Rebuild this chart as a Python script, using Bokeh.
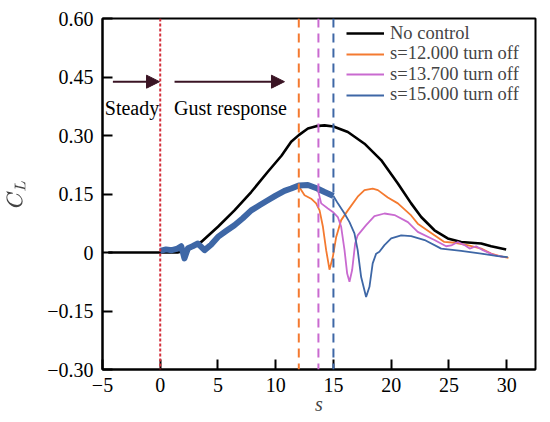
from bokeh.plotting import figure
from bokeh.models import (Span, Legend, LegendItem, Label, Arrow, NormalHead,
                          FixedTicker, Range1d, TeX)
from bokeh.embed import file_html
from bokeh.resources import INLINE

# ---------------- data ----------------
s_noctrl = [-4.5, 1.5, 2.5, 3.55, 5.0, 6.43, 7.88, 9.32, 10.5, 11.34, 12.0, 12.79,
            13.5, 14.23, 15.0, 16.25, 17.69, 19.13, 20.58, 21.73, 22.6, 23.75,
            24.9, 26.06, 27.8, 28.66, 29.96]
cl_noctrl = [0.0, 0.0, 0.008, 0.027, 0.066, 0.108, 0.155, 0.207, 0.248, 0.284,
             0.301, 0.318, 0.324, 0.326, 0.323, 0.309, 0.279, 0.237, 0.177, 0.126,
             0.091, 0.057, 0.036, 0.027, 0.023, 0.016, 0.0077]

# common (controlled, oscillating) part before turn-off
s_ctrl = [0.0, 0.5, 1.0, 1.5, 1.82, 2.1, 2.4, 2.8, 3.26, 3.84, 4.4, 5.0, 5.7,
          6.43, 7.15, 7.88, 8.6, 9.32, 10.0, 10.76, 11.34, 12.0, 12.79, 13.6,
          14.23, 15.0]
cl_ctrl = [0.004, 0.008, 0.006, 0.01, 0.016, -0.015, 0.011, 0.016, 0.023, 0.006,
           0.02, 0.04, 0.055, 0.07, 0.088, 0.108, 0.121, 0.134, 0.146, 0.158,
           0.164, 0.172, 0.173, 0.164, 0.155, 0.145]

# after turn-off at s = 12.000
s_off12 = [12.0, 12.5, 13.07, 13.5, 13.8, 14.09, 14.37, 14.66, 14.95, 15.24, 15.67,
           16.25, 17.1, 17.69, 18.4, 18.85, 19.71, 20.58, 21.73, 22.3, 23.75, 24.6,
           25.5, 26.6, 27.8, 28.66, 29.4, 30.16]
cl_off12 = [0.17, 0.147, 0.138, 0.126, 0.108, 0.066, 0.006, -0.044, -0.011, 0.04,
            0.083, 0.108, 0.143, 0.16, 0.164, 0.16, 0.141, 0.126, 0.095, 0.074,
            0.044, 0.027, 0.025, 0.019, 0.010, -0.003, -0.0095, -0.014]

# after turn-off at s = 13.700
s_off137 = [13.66, 13.94, 14.52, 14.95, 15.38, 15.67, 15.96, 16.19, 16.39, 16.62,
            16.88, 17.1, 17.83, 18.55, 19.42, 20.29, 21.45, 22.3, 23.75, 24.76,
            25.2, 25.77, 26.35, 26.8, 27.36, 27.94, 28.95, 29.8]
cl_off137 = [0.16, 0.126, 0.113, 0.104, 0.091, 0.066, 0.006, -0.054, -0.075, -0.045,
             0.023, 0.044, 0.07, 0.093, 0.1, 0.096, 0.078, 0.053, 0.032, 0.016,
             0.018, 0.027, 0.019, 0.010, 0.016, 0.006, -0.007, -0.012]

# after turn-off at s = 15.000
s_off15 = [15.0, 15.38, 15.96, 16.39, 16.82, 17.1, 17.4, 17.83, 18.12, 18.4, 18.7,
           18.98, 19.42, 20.0, 20.87, 21.73, 22.9, 24.33, 26.06, 27.8, 29.24, 30.1]
cl_off15 = [0.145, 0.126, 0.1, 0.078, 0.049, 0.006, -0.063, -0.114, -0.088, -0.028,
            -0.003, 0.002, 0.019, 0.036, 0.044, 0.042, 0.032, 0.010, 0.004, -0.003,
            -0.0095, -0.012]

turn_off_s = [12.0, 13.7, 15.0]
gust_start_s = 0.0

series_labels = ["No control", "s=12.000 turn off", "s=13.700 turn off",
                 "s=15.000 turn off"]
x_ticks = [-5, 0, 5, 10, 15, 20, 25, 30]
y_ticks = [-0.30, -0.15, 0.0, 0.15, 0.30, 0.45, 0.60]
y_tick_labels = ["\u22120.30", "\u22120.15", "0", "0.15", "0.30", "0.45", "0.60"]
x_tick_labels = ["\u22125", "0", "5", "10", "15", "20", "25", "30"]

# ---------------- styling ----------------
FONT = "Liberation Serif"
C_BLACK = "#000000"
C_ORANGE = "#f47a30"
C_VIOLET = "#c96ad0"
C_BLUE = "#3e67a6"
C_RED = "#d4303c"
C_ARROW = "#3a1424"

W, H = 550, 422
B_LEFT, B_RIGHT, B_TOP, B_BOTTOM = 102, 15, 18, 53
FRAME_H = H - B_TOP - B_BOTTOM

p = figure(width=W, height=H, output_backend="svg", toolbar_location=None,
           x_range=Range1d(-5, 32.5), y_range=Range1d(-0.30, 0.60))
p.min_border_left = B_LEFT
p.min_border_right = B_RIGHT
p.min_border_top = B_TOP
p.min_border_bottom = B_BOTTOM
p.xgrid.visible = False
p.ygrid.visible = False
p.outline_line_color = "black"
p.outline_line_width = 2
p.outline_line_alpha = 1.0
p.background_fill_color = "white"
p.border_fill_color = "white"

for ax in (p.xaxis[0], p.yaxis[0]):
    ax.axis_line_width = 2
    ax.major_tick_line_width = 2
    ax.major_tick_in = 10
    ax.major_tick_out = 0
    ax.minor_tick_line_color = None
    ax.major_label_text_font = FONT
    ax.major_label_text_font_size = "20px"
    ax.major_label_text_color = "black"
    ax.axis_label_text_font = FONT
    ax.axis_label_text_font_size = "20px"
    ax.axis_label_text_font_style = "italic"

p.xaxis[0].ticker = FixedTicker(ticks=x_ticks)
p.xaxis[0].major_label_overrides = {t: l for t, l in zip(x_ticks, x_tick_labels)}
p.yaxis[0].ticker = FixedTicker(ticks=y_ticks)
p.yaxis[0].major_label_overrides = {t: l for t, l in zip(y_ticks, y_tick_labels)}
p.xaxis[0].axis_label = "s"
p.xaxis[0].axis_label_standoff = -2
p.xaxis[0].major_label_standoff = 8
p.yaxis[0].major_label_standoff = 9
p.yaxis[0].axis_label = TeX(text=r"C_L")
p.yaxis[0].axis_label_standoff = 16

# vertical reference lines
p.add_layout(Span(location=gust_start_s, dimension="height", line_color=C_RED,
                  line_width=2, line_dash="3 2"))
for loc, col in zip(turn_off_s, [C_ORANGE, C_VIOLET, C_BLUE]):
    p.add_layout(Span(location=loc, dimension="height", line_color=col,
                      line_width=2, line_dash="9 6"))

# curves
r_black = p.line(s_noctrl, cl_noctrl, line_color=C_BLACK, line_width=2.6)
r_o = p.line(s_off12, cl_off12, line_color=C_ORANGE, line_width=1.8)
r_v = p.line(s_off137, cl_off137, line_color=C_VIOLET, line_width=1.8)
r_b = p.line(s_off15, cl_off15, line_color=C_BLUE, line_width=1.8)
p.line(s_ctrl, cl_ctrl, line_color=C_BLUE, line_width=6, line_join="round")

# arrows and phase texts
p.add_layout(Arrow(end=NormalHead(size=13, fill_color=C_ARROW, line_color=C_ARROW),
                   x_start=-4.1, y_start=0.438, x_end=-0.06, y_end=0.438,
                   line_color=C_ARROW, line_width=2))
p.add_layout(Arrow(end=NormalHead(size=13, fill_color=C_ARROW, line_color=C_ARROW),
                   x_start=1.24, y_start=0.438, x_end=10.76, y_end=0.438,
                   line_color=C_ARROW, line_width=2))
p.add_layout(Label(x=-4.8, y=0.371, text="Steady", text_font=FONT,
                   text_font_size="20px", text_color="black",
                   text_baseline="alphabetic"))
p.add_layout(Label(x=1.2, y=0.371, text="Gust response", text_font=FONT,
                   text_font_size="20px", text_color="black",
                   text_baseline="alphabetic"))

# legend: one row per entry, tightly stacked as in the reference
ROW_H = 20.5
row_tops = [5.0, 25.5, 46.0, 66.5]      # px below the frame top
for lab, r, top in zip(series_labels, [r_black, r_o, r_v, r_b], row_tops):
    lg = Legend(items=[LegendItem(label=lab, renderers=[r])],
                location=(244, FRAME_H - top - ROW_H), border_line_color=None,
                background_fill_alpha=0, label_text_font=FONT,
                label_text_font_size="18.5px", glyph_width=38, glyph_height=20,
                label_height=20, spacing=0, padding=0, margin=0,
                label_standoff=6)
    p.add_layout(lg)

open("out.html", "w").write(file_html(p, INLINE))
